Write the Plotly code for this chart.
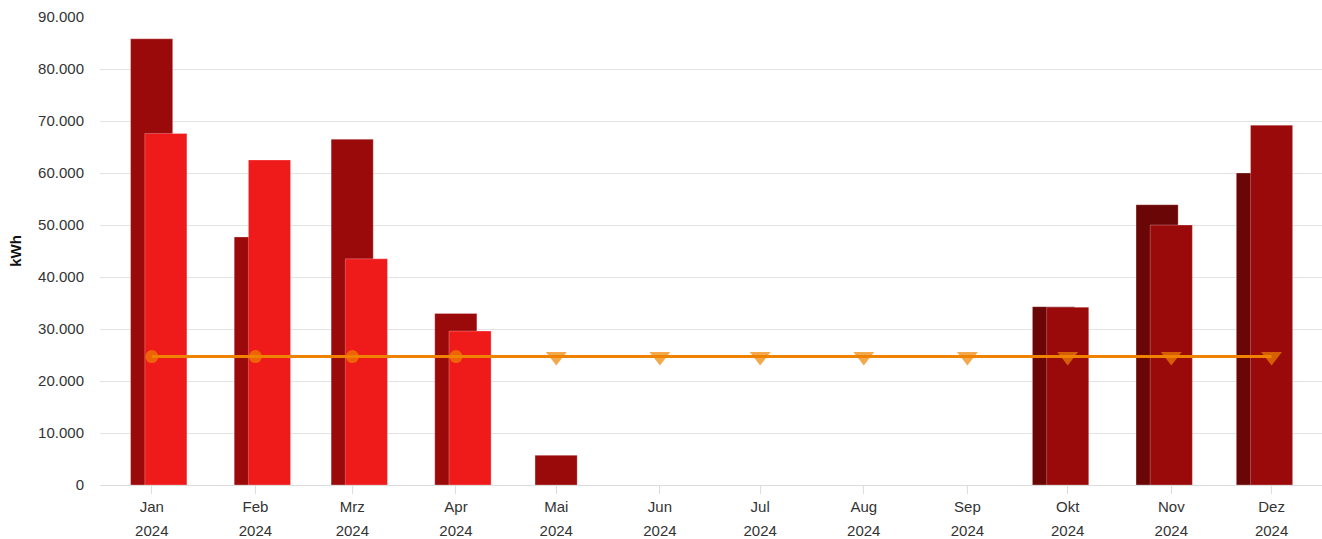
import plotly.graph_objects as go

# ---- data ----
months = ["2024-01-01", "2024-02-01", "2024-03-01", "2024-04-01", "2024-05-01", "2024-06-01",
          "2024-07-01", "2024-08-01", "2024-09-01", "2024-10-01", "2024-11-01", "2024-12-01"]
month_labels = ["Jan", "Feb", "Mrz", "Apr", "Mai", "Jun", "Jul", "Aug", "Sep", "Okt", "Nov", "Dez"]
year_labels = ["2024", "2024", "2024", "2024", "2024", "2024",
               "2024", "2024", "2024", "2024", "2024", "2024"]
back_values = [85800, 47700, 66500, 33000, 5700, None, None, None, None, 34300, 53900, 60000]
front_values = [67600, 62500, 43500, 29600, None, None, None, None, None, 34200, 50000, 69200]
line_values = [24700, 24700, 24700, 24700, 24700, 24700, 24700, 24700, 24700, 24700, 24700, 24700]
actual_flag = [True, True, True, True, False, False, False, False, False, False, False, False]

# ---- styles ----
DARK = "#9b0a0a"
DARKER = "#6b0606"
BRIGHT = "#ef1a1a"
ORANGE = "#ef8300"
back_colors = [DARK if i < 5 else DARKER for i in range(12)]
front_colors = [BRIGHT if i < 5 else DARK for i in range(12)]
symbols = ["circle" if a else "triangle-down" for a in actual_flag]
sizes = [13 if a else 18 for a in actual_flag]

DAY = 86400000
bar_w = 12.6 * DAY
back_offsets = [(-6.35 if i < 5 else -10.55) * DAY for i in range(12)]
front_offsets = [(-2.1 if i < 5 else -6.3) * DAY for i in range(12)]

fig = go.Figure()
fig.add_trace(go.Bar(
    x=months, y=back_values, width=[bar_w] * 12, offset=back_offsets,
    marker=dict(color=back_colors, line=dict(width=0.6, color="rgba(255,255,255,0.45)")),
    showlegend=False,
))
fig.add_trace(go.Bar(
    x=months, y=front_values, width=[bar_w] * 12, offset=front_offsets,
    marker=dict(color=front_colors, line=dict(width=0.6, color="rgba(255,255,255,0.45)")),
    showlegend=False,
))
fig.add_trace(go.Scatter(
    x=months, y=line_values, mode="lines+markers",
    line=dict(color=ORANGE, width=3),
    marker=dict(color=ORANGE, symbol=symbols, size=sizes, line=dict(width=0)),
    showlegend=False,
))
# invisible trace on second x axis for the year labels
fig.add_trace(go.Scatter(x=months, y=line_values, xaxis="x2", mode="markers",
                         marker=dict(opacity=0), hoverinfo="skip", showlegend=False))

xrange = ["2023-12-16 12:00", "2024-12-16 02:00"]
FONT = "Liberation Sans, Arial, sans-serif"

fig.update_layout(
    width=1322, height=539,
    margin=dict(l=100, r=0, t=17, b=54),
    paper_bgcolor="white", plot_bgcolor="white",
    barmode="overlay",
    separators=",.",
    font=dict(family=FONT, size=15, color="#333333"),
    xaxis=dict(
        type="date", range=xrange,
        tickvals=months, ticktext=month_labels,
        showgrid=False, showline=True, linecolor="#dcdcdc", linewidth=1,
        ticks="outside", ticklen=8, tickcolor="#dcdcdc", tickwidth=1,
        tickfont=dict(size=15, color="#333333"),
        zeroline=False, fixedrange=True,
    ),
    xaxis2=dict(
        type="date", range=xrange, overlaying="x", anchor="y", side="bottom",
        tickvals=months, ticktext=year_labels,
        showgrid=False, showline=False, ticks="outside", ticklen=32,
        tickcolor="rgba(0,0,0,0)",
        tickfont=dict(size=15, color="#333333"),
        zeroline=False,
    ),
    yaxis=dict(
        range=[0, 90000], tickvals=[0, 10000, 20000, 30000, 40000, 50000, 60000, 70000, 80000, 90000],
        tickformat=",d",
        showgrid=True, gridcolor="#e3e3e3", gridwidth=1,
        zeroline=False, showline=False,
        ticks="outside", ticklen=12, tickcolor="rgba(0,0,0,0)",
        tickfont=dict(size=15, color="#333333"),
        title=dict(text="<b>kWh</b>", font=dict(size=15, color="#111111"), standoff=12),
    ),
)

fig.write_html("out.html", config={"displayModeBar": False},
               post_script="document.body.style.margin='0';document.body.style.overflow='hidden';")
